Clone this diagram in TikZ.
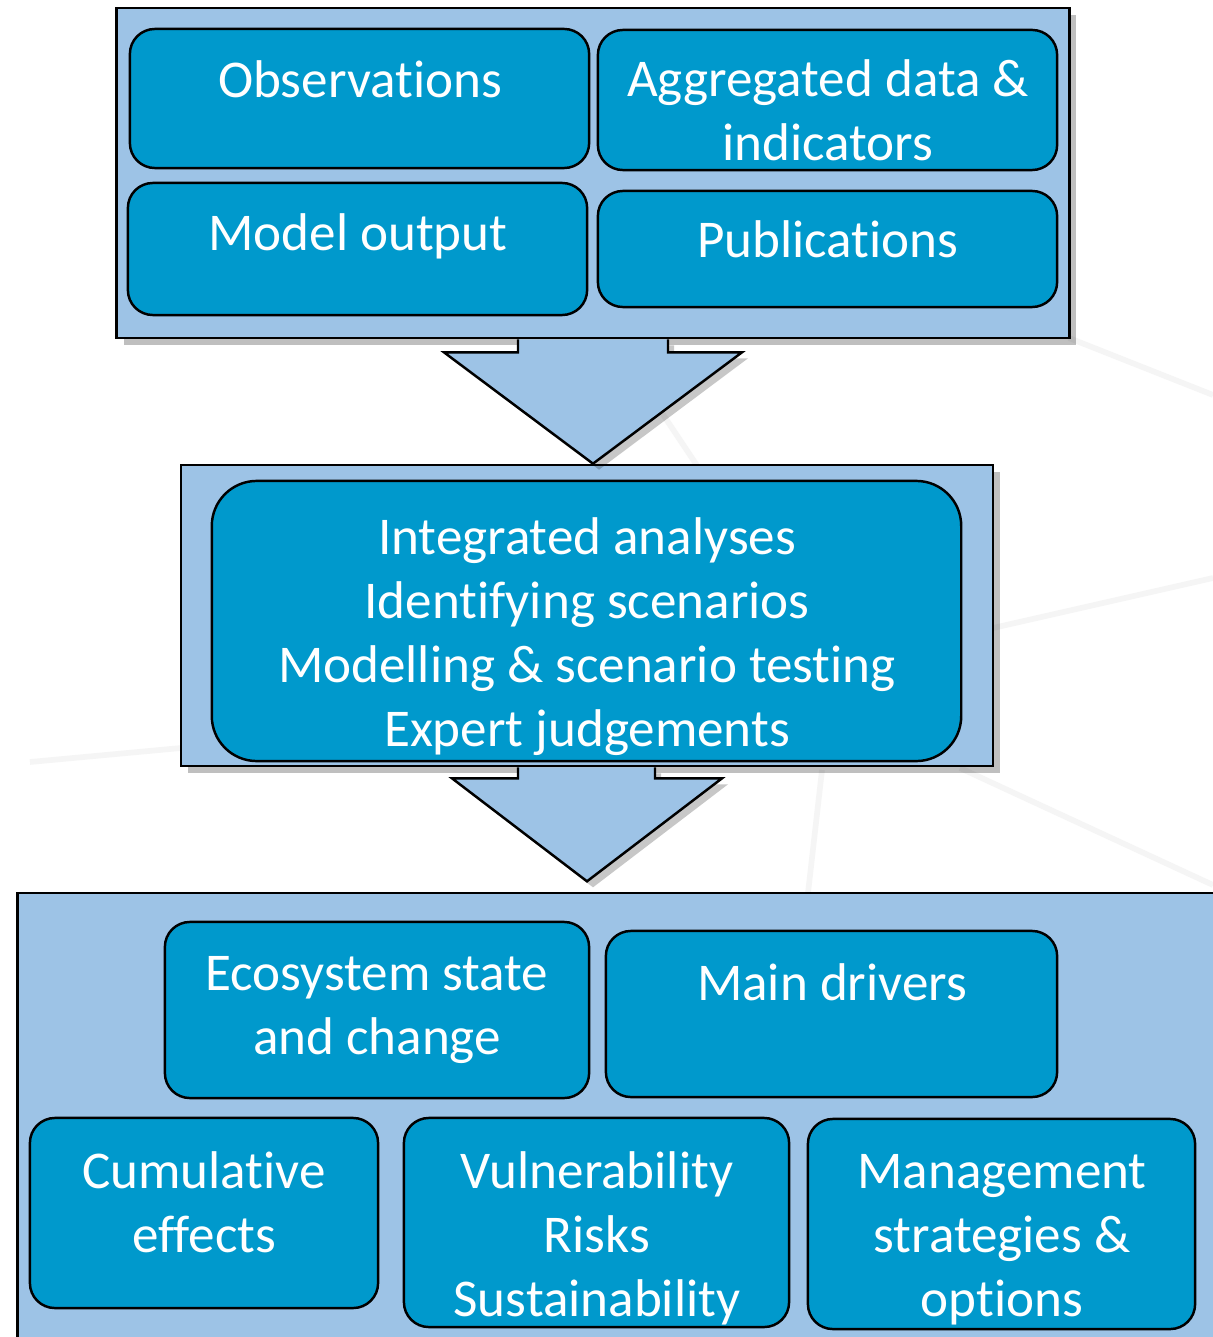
\documentclass[tikz,border=0pt]{standalone}
\usepackage{fontspec}
\setmainfont{Carlito}[RawFeature={-liga;-clig;-calt;-dlig}]
\usetikzlibrary{shadows, calc, positioning}

\definecolor{panelblue}{RGB}{157,195,230}
\definecolor{cellblue}{RGB}{0,153,204}

\begin{document}
\begin{tikzpicture}[x=0.01cm, y=-0.01cm,
    panel/.style={draw=black, line width=0.7pt, fill=panelblue, inner sep=0pt,
        drop shadow={shadow xshift=0.07cm, shadow yshift=-0.07cm, opacity=0.25, fill=black}},
    cell/.style={draw=black, line width=0.7pt, fill=cellblue, rounded corners=0.25cm, inner sep=0pt},
    lbl/.style={text=white, align=center, inner sep=0pt, font=\fontsize{15.1}{18.2}\selectfont},
    bigarrow/.style={draw=black, line width=0.7pt, fill=panelblue,
        drop shadow={shadow xshift=0.06cm, shadow yshift=-0.06cm, opacity=0.22, fill=black}},
    bgline/.style={line width=1.6pt, black!4}]

\useasboundingbox (0,0) rectangle (1213,1337);
\clip (0,0) rectangle (1213,1337);
\fill[white] (0,0) rectangle (1213,1337);

% faint background lines
\draw[bgline] (30,762) -- (181,748);
\draw[bgline] (1069,338) -- (1213,395);
\draw[bgline] (640,380) -- (700,470);
\draw[bgline] (993,628) -- (1213,578);
\draw[bgline] (960,768) -- (1213,885);
\draw[bgline] (822,770) -- (808,893);

% containers
\node[panel, minimum width=9.52cm, minimum height=3.30cm] (src) at (593,173) {};
\node[panel, minimum width=8.12cm, minimum height=3.01cm] (mid) at (587,615.5) {};
\node[panel, minimum width=12.12cm, minimum height=4.57cm] (out) at (624,1121.5) {};

% arrows between the containers
\draw[bigarrow] ($(src.south)+(-75,0)$) -- ++(0,13) -- ++(-74,0)
    -- (src.south |- mid.north) -- ($(src.south)+(149,13)$) -- ++(-74,0) -- ++(0,-13);
\draw[bigarrow] ($(mid.south)+(-69,0)$) -- ++(0,11) -- ++(-66,0)
    -- ($(mid.south)+(0,114)$) -- ($(mid.south)+(135,11)$) -- ++(-67,0) -- ++(0,-11);

% top sources
\node[cell, minimum width=4.59cm, minimum height=1.39cm] (obs) at (359.5,98.5) {};
\node[cell, minimum width=4.59cm, minimum height=1.40cm] (agg) at (827.5,100) {};
\node[cell, minimum width=4.59cm, minimum height=1.32cm] (model) at (357.5,249) {};
\node[cell, minimum width=4.59cm, minimum height=1.16cm] (pub) at (827.5,249) {};
\node[lbl] (obs-t) at (360,79) {Observations};
\node[lbl] (agg-t) at (828,110) {Aggregated data \&\\indicators};
\node[lbl] (model-t) at (358,236) {Model output};
\node[lbl] (pub-t) at (828,239) {Publications};

% analyses
\node[cell, rounded corners=0.45cm, minimum width=7.49cm, minimum height=2.80cm] (ana) at (586.5,621) {};
\node[lbl] (ana-t) at (587,637) {Integrated analyses\\Identifying scenarios\\Modelling \& scenario testing\\Expert judgements};

% outcomes
\node[cell, minimum width=4.24cm, minimum height=1.76cm] (eco) at (377,1010) {};
\node[cell, minimum width=4.51cm, minimum height=1.66cm] (drv) at (831.5,1014) {};
\node[cell, minimum width=3.48cm, minimum height=1.90cm] (cum) at (204,1213) {};
\node[cell, minimum width=3.85cm, minimum height=2.09cm] (vul) at (596.5,1222.5) {};
\node[cell, minimum width=3.87cm, minimum height=2.10cm] (mgt) at (1001.5,1224) {};
\node[lbl] (eco-t) at (377,1010) {Ecosystem state\\and change};
\node[lbl] (drv-t) at (832,982) {Main drivers};
\node[lbl] (cum-t) at (204,1202) {Cumulative\\effects};
\node[lbl] (vul-t) at (597,1238) {Vulnerability\\Risks\\Sustainability};
\node[lbl] (mgt-t) at (1002,1240) {Management\\strategies \&\\options};

\end{tikzpicture}
\end{document}
